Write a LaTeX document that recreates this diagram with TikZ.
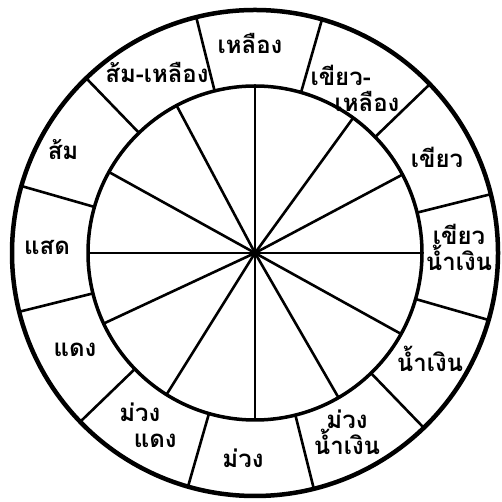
\documentclass[tikz,border=0pt]{standalone}
\usepackage{fontspec}
\newfontfamily\thaifont[Script=Thai]{Loma}
\begin{document}
\begin{tikzpicture}[x=1pt, y=1pt,
  rim/.style={draw, line width=4.5pt},
  ring/.style={draw, line width=3.5pt},
  spoke/.style={line width=2.6pt},
  lbl/.style={font=\thaifont\bfseries\fontsize{24}{26}\selectfont, align=center, inner sep=0pt}
]
\useasboundingbox (0,0) rectangle (502,502);
\coordinate (c) at (255,249);

% วงกลมนอกและวงกลมใน
\draw[rim]  (c) circle[radius=243];
\draw[ring] (c) circle[radius=167];

% เส้นแบ่งช่องสีในวงแหวน
\foreach \a in {14,44,74,104,134,164,194,224,254,284,314,344}
  \draw[spoke] ([shift={(\a:167)}]c) -- ([shift={(\a:243)}]c);

% ก้านจากจุดกลาง
\foreach \a in {0,28,54,90,118,151,180,205,238,270,300,331}
  \draw[spoke] (c) -- ([shift={(\a:167)}]c);

% ชื่อสี
\node[lbl] (yellow)      at (250,459) {เหลือง};
\node[lbl, align=left] (yellowgreen) at (355,414) {เขียว-\\\hspace*{1.0em}เหลือง};
\node[lbl] (green)       at (437,345) {เขียว};
\node[lbl] (bluegreen)   at (459,255) {เขียว\\น้ำเงิน};
\node[lbl] (blue)        at (430,143) {น้ำเงิน};
\node[lbl] (blueviolet)  at (347,70)  {ม่วง\\น้ำเงิน};
\node[lbl] (violet)      at (243,44)  {ม่วง};
\node[lbl, align=left] (redviolet) at (148,77) {ม่วง\\\hspace*{0.6em}แดง};
\node[lbl] (red)         at (75,152)  {แดง};
\node[lbl] (vermilion)   at (47,255)  {แสด};
\node[lbl] (orange)      at (63,352)  {ส้ม};
\node[lbl] (yelloworange) at (157,430) {ส้ม-เหลือง};

\end{tikzpicture}
\end{document}
